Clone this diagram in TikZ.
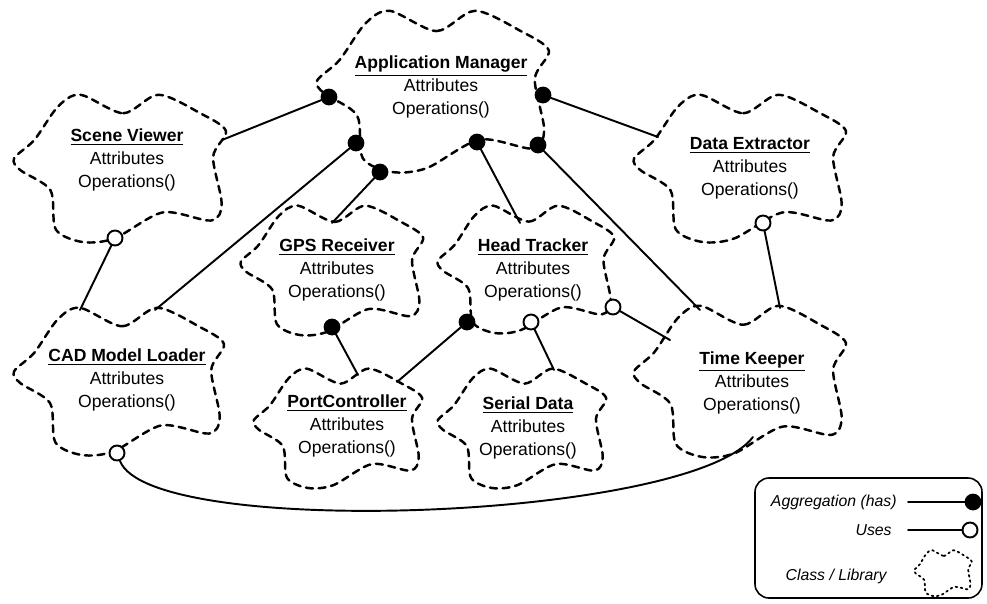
\documentclass[tikz,border=0pt]{standalone}
\usepackage{fontspec}
\setmainfont{Liberation Sans}
% one cloud outline for every class, scaled round its centre
\newcommand{\classcloud}[5][classline]{%
	\draw[#1, shift={(#2,#3)}, xscale=#4, yscale=#5] plot[smooth cycle] coordinates {(-0.37,-0.99) (0.03,-0.74) (0.36,-0.99) (0.75,-0.74) (0.99,-0.50) (0.87,-0.15) (0.95,0.48) (0.85,0.71) (0.40,0.60) (-0.05,0.95) (-0.35,1.0) (-0.60,0.83) (-0.65,0.30) (-0.93,0.03) (-0.99,-0.13) (-0.80,-0.38) (-0.58,-0.83)};}
\begin{document}
\begin{tikzpicture}[x=0.02cm, y=-0.02cm, line cap=round, line join=round]
	\tikzset{classline/.style={dashed, line width=1.4pt, dash pattern=on 4pt off 3.2pt},
		libline/.style={dotted, line width=1pt},
		classtext/.style={align=center, inner sep=0pt, font=\fontsize{10}{13}\selectfont},
		legendtext/.style={anchor=east, inner sep=0pt, font=\fontsize{9}{11}\selectfont\itshape},
		link/.style={line width=1.1pt},
		hasdot/.style={circle, fill=black, draw=black, line width=1pt, minimum size=0.3cm, inner sep=0pt},
		usesdot/.style={circle, fill=white, draw=black, line width=1.1pt, minimum size=0.3cm, inner sep=0pt}}
	\useasboundingbox (0,0) rectangle (987,603);
	% classes
	\classcloud{433}{91}{117}{81}
	\classcloud{120}{168}{107}{74}
	\classcloud{740}{168}{107}{74}
	\classcloud{332}{270}{92}{65}
	\classcloud{526}{269}{89}{64}
	\classcloud{119}{381}{106}{74}
	\classcloud{338}{428}{85}{60}
	\classcloud{522}{428}{85}{60}
	\classcloud{740}{381}{107}{76}
	\node[classtext] (am) at (441,87) {\underline{\textbf{Application Manager}}\\Attributes\\Operations()};
	\node[classtext] (sv) at (127,160) {\underline{\textbf{Scene Viewer}}\\Attributes\\Operations()};
	\node[classtext] (de) at (750,168) {\underline{\textbf{Data Extractor}}\\Attributes\\Operations()};
	\node[classtext] (gps) at (337,270) {\underline{\textbf{GPS Receiver}}\\Attributes\\Operations()};
	\node[classtext] (ht) at (533,270) {\underline{\textbf{Head Tracker}}\\Attributes\\Operations()};
	\node[classtext] (cad) at (127,380) {\underline{\textbf{CAD Model Loader}}\\Attributes\\Operations()};
	\node[classtext] (pc) at (347,426) {\underline{\textbf{PortController}}\\Attributes\\Operations()};
	\node[classtext] (sd) at (528,428) {\underline{\textbf{Serial Data}}\\Attributes\\Operations()};
	\node[classtext] (tk) at (752,383) {\underline{\textbf{Time Keeper}}\\Attributes\\Operations()};
	% ends of the links
	\node[hasdot] (am-sv) at (329,97) {};
	\node[hasdot] (am-cad) at (356,143) {};
	\node[hasdot] (am-gps) at (380,172) {};
	\node[hasdot] (am-ht) at (477,142) {};
	\node[hasdot] (am-tk) at (538,145) {};
	\node[hasdot] (am-de) at (543,95) {};
	\node[usesdot] (sv-cad) at (115,238) {};
	\node[usesdot] (de-tk) at (763,223) {};
	\node[hasdot] (gps-pc) at (332,327) {};
	\node[hasdot] (ht-pc) at (467,322) {};
	\node[usesdot] (ht-sd) at (531,322) {};
	\node[usesdot] (ht-tk) at (613,307) {};
	\node[usesdot] (cad-tk) at (117,453) {};
	\coordinate (sv-am) at (222,140);
	\coordinate (cad-am) at (155,310);
	\coordinate (gps-am) at (332,223);
	\coordinate (ht-am) at (520,223);
	\coordinate (tk-am) at (700,310);
	\coordinate (de-am) at (658,137);
	\coordinate (cad-sv) at (80,310);
	\coordinate (tk-de) at (780,308);
	\coordinate (pc-gps) at (358,375);
	\coordinate (pc-ht) at (397,382);
	\coordinate (sd-ht) at (554,370);
	\coordinate (tk-ht) at (670,340);
	\coordinate (tk-cad) at (753,437);
	\draw[link] (am-sv) -- (sv-am) (am-cad) -- (cad-am) (am-gps) -- (gps-am)
		(am-ht) -- (ht-am) (am-tk) -- (tk-am) (am-de) -- (de-am);
	\draw[link] (sv-cad) -- (cad-sv) (de-tk) -- (tk-de) (gps-pc) -- (pc-gps)
		(ht-pc) -- (pc-ht) (ht-sd) -- (sd-ht) (ht-tk) -- (tk-ht);
	\draw[link] (cad-tk) .. controls (150,540) and (690,520) .. (tk-cad);
	% legend
	\draw[line width=0.9pt, rounded corners=0.28cm] (755,478) rectangle (982,598);
	\node[legendtext] (lhas) at (897,502) {Aggregation (has)};
	\node[legendtext] (luses) at (892,530) {Uses};
	\node[legendtext] (llib) at (887,576) {Class / Library};
	\node[hasdot] (lhas-dot) at (973,502) {};
	\node[usesdot] (luses-dot) at (970,530) {};
	\coordinate (lhas-start) at (908,502);
	\coordinate (luses-start) at (908,530);
	\draw[link] (lhas-start) -- (lhas-dot) (luses-start) -- (luses-dot);
	\classcloud[libline]{943}{573}{29}{23}
\end{tikzpicture}
\end{document}
